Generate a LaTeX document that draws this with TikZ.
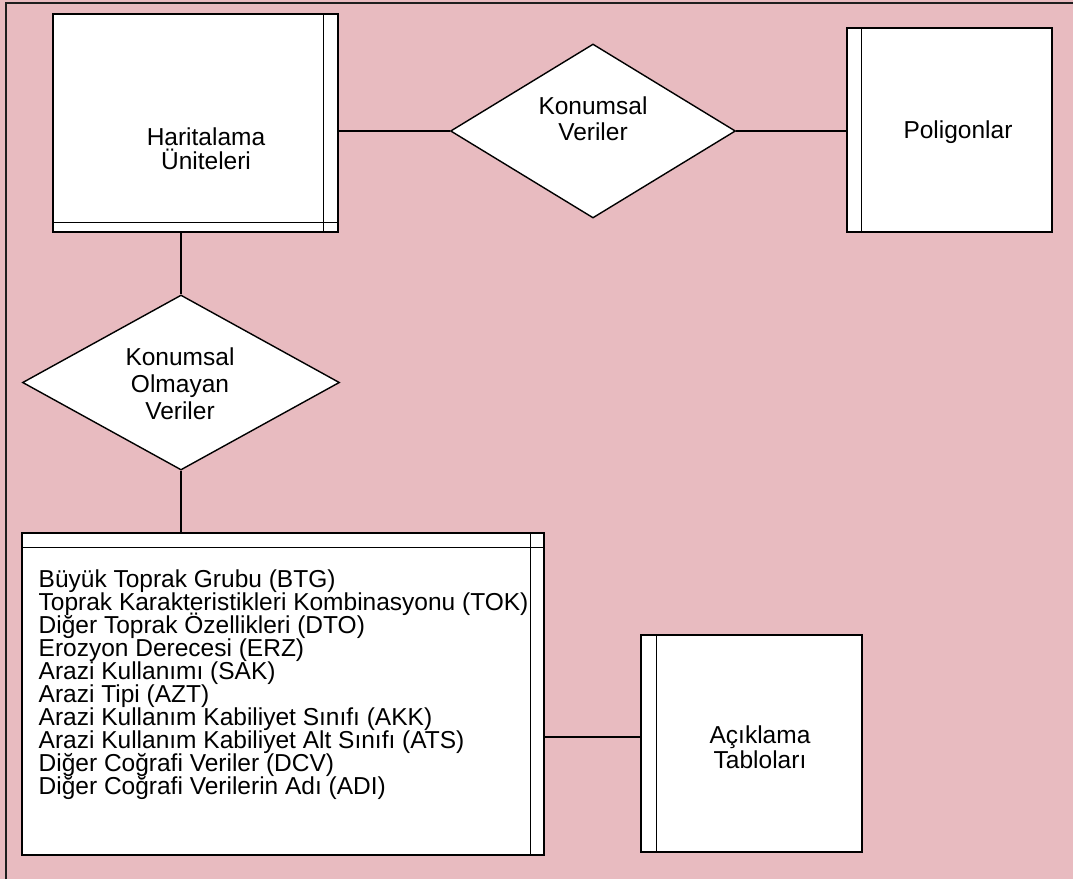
\documentclass[tikz,border=0pt]{standalone}
\usepackage{fontspec}
\setmainfont{Liberation Sans}
\usetikzlibrary{shapes.geometric}
\definecolor{bgpink}{RGB}{232,187,192}
\definecolor{framec}{RGB}{30,30,30}
\newcommand{\tightls}{\lineskiplimit=-20pt\relax}
\tikzset{
  ent/.style={draw=black, fill=white, line width=1.4pt, rectangle, inner sep=0pt},
  rel/.style={draw=black, fill=white, line width=1.4pt, diamond, inner sep=0pt},
  lbl/.style={inner sep=0pt, align=center, font={\fontsize{24.5}{25}\selectfont\tightls}},
  lst/.style={inner sep=0pt, align=left, anchor=north west, font={\fontsize{24.5}{23}\selectfont\tightls}},
  conn/.style={draw=black, line width=1.4pt},
  inner/.style={draw=black, line width=1.4pt}
}
\begin{document}
\begin{tikzpicture}[x=1pt, y=-1pt]
\useasboundingbox (0,0) rectangle (1073,879);
\fill[bgpink] (0,0) rectangle (1073,879);
\draw[framec, line width=1.6pt] (6,879) -- (6,3) -- (1073,3);

% entities
\node[ent, minimum width=285pt, minimum height=218pt] (hu) at (195.5,123) {};
\draw[inner] ([xshift=-15pt]hu.north east) -- ([xshift=-15pt]hu.south east);
\draw[inner] ([yshift=10pt]hu.south west) -- ([yshift=10pt]hu.south east);
\node[lbl, font={\fontsize{24.5}{24}\selectfont\tightls}] (hutext) at (206,149) {Haritalama\\Üniteleri};

\node[ent, minimum width=205pt, minimum height=204pt] (pol) at (949.5,130) {};
\draw[inner] ([xshift=15pt]pol.north west) -- ([xshift=15pt]pol.south west);
\node[lbl] (poltext) at (958,132) {Poligonlar};

\node[ent, minimum width=522pt, minimum height=322pt] (list) at (283,694) {};
\draw[inner] ([xshift=-14pt]list.north east) -- ([xshift=-14pt]list.south east);
\draw[inner] ([yshift=-15pt]list.north west) -- ([yshift=-15pt]list.north east);
\node[lst] (listtext) at (38.5,569.5) {Büyük Toprak Grubu (BTG)\\
Toprak Karakteristikleri Kombinasyonu (TOK)\\
Diğer Toprak Özellikleri (DTO)\\
Erozyon Derecesi (ERZ)\\
Arazi Kullanımı (SAK)\\
Arazi Tipi (AZT)\\
Arazi Kullanım Kabiliyet Sınıfı (AKK)\\
Arazi Kullanım Kabiliyet Alt Sınıfı (ATS)\\
Diğer Coğrafi Veriler (DCV)\\
Diğer Coğrafi Verilerin Adı (ADI)};

\node[ent, minimum width=221pt, minimum height=217pt] (ack) at (751.5,743.5) {};
\draw[inner] ([xshift=16pt]ack.north west) -- ([xshift=16pt]ack.south west);
\node[lbl] (acktext) at (760,747) {Açıklama\\Tabloları};

% relationships
\node[rel, minimum width=285pt, minimum height=174pt] (kv) at (593,131) {};
\node[lbl, font={\fontsize{24.5}{26}\selectfont\tightls}] (kvtext) at (593,118.5) {Konumsal\\Veriler};

\node[rel, minimum width=317pt, minimum height=175pt] (kov) at (181,382.5) {};
\node[lbl, font={\fontsize{24.5}{27}\selectfont\tightls}] (kovtext) at (180,384) {Konumsal\\Olmayan\\Veriler};

% connectors
\draw[conn] (hu.east |- kv.west) -- (kv.west);
\draw[conn] (kv.east) -- (pol.west |- kv.east);
\draw[conn] (kov.north |- hu.south) -- (kov.north);
\draw[conn] (kov.south) -- (kov.south |- list.north);
\draw[conn] ([yshift=6.5pt]list.east |- ack.west) -- ([yshift=6.5pt]ack.west);
\end{tikzpicture}
\end{document}
